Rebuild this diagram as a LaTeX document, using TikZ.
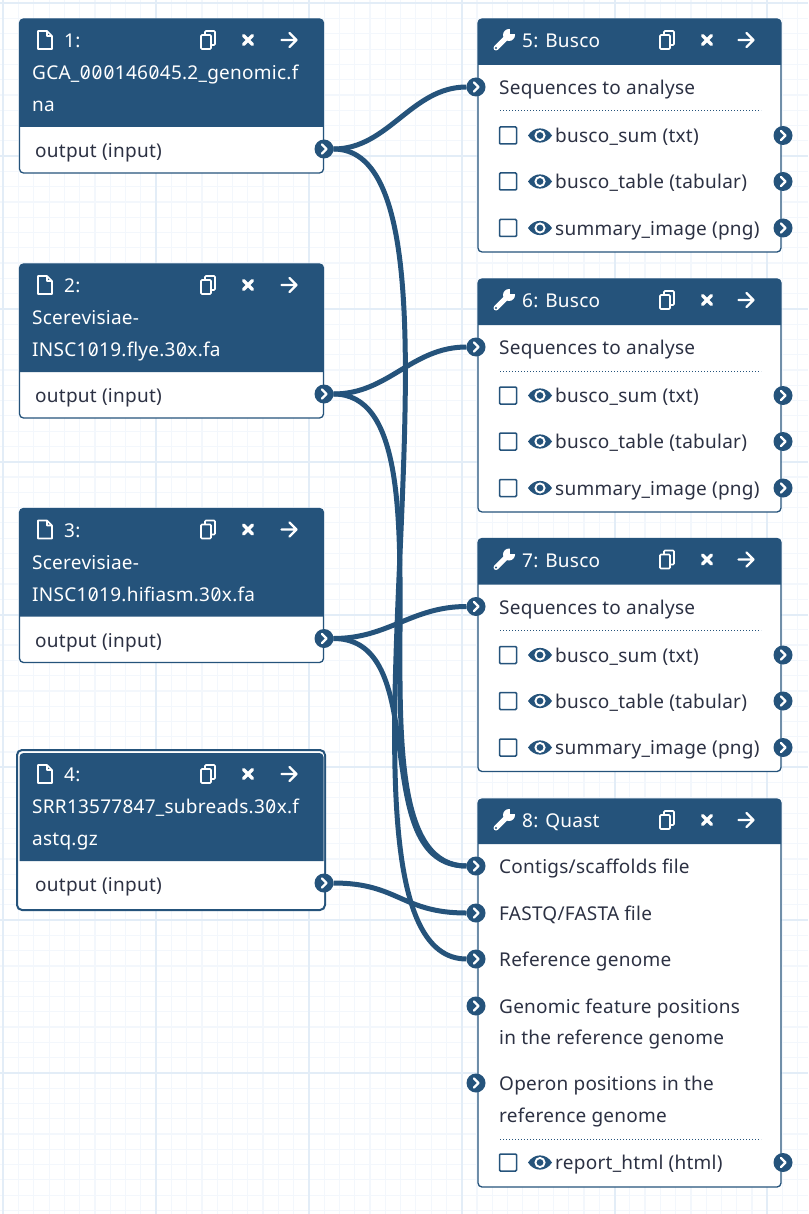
\documentclass[tikz,border=0pt]{standalone}
\usepackage{fontspec}
\setmainfont[LetterSpace=1.3]{Noto Sans}
\definecolor{galblue}{HTML}{25537B}
\definecolor{galtext}{HTML}{2C3143}
\definecolor{gridmaj}{HTML}{E3EDF7}
\definecolor{gridmin}{HTML}{F3F7FC}
\tikzset{
  boxbody/.style={draw=galblue,fill=white,line width=1.3pt,rounded corners=4pt,anchor=north west,inner sep=0pt,outer sep=0pt,minimum width=304pt},
  lbl/.style={anchor=base west,inner sep=0pt,yshift=-.8pt,text=galtext,font=\fontsize{19}{21}\selectfont},
  hdr/.style={lbl,text=white},
  port/.style={circle,fill=galblue,minimum size=19pt,inner sep=0pt,outer sep=0pt,
    path picture={\draw[white,line width=2.2pt,line cap=round,line join=round,shift={(path picture bounding box.center)}] (-2,-4.5)--(2.5,0)--(-2,4.5);}},
  wire/.style={draw=galblue,line width=5pt},
  sepline/.style={draw=galblue,line width=1pt,dotted},
  pics/fileicon/.style={code={\draw[white,line width=1.7pt,line join=round] (-7,-9)--(2,-9)--(7,-4)--(7,9)--(-7,9)--cycle (2,-9)--(2,-4)--(7,-4);}},
  pics/copyicon/.style={code={
    \draw[white,line width=1.6pt,rounded corners=1pt] (-3,-9)--(7,-9)--(7,5)--(-3,5)--cycle;
    \draw[white,fill=galblue,line width=1.6pt,rounded corners=1pt] (-7,-5)--(3,-5)--(3,9)--(-7,9)--cycle;}},
  pics/closeicon/.style={code={\draw[white,line width=3.4pt,line cap=round] (-4.5,-4.5)--(4.5,4.5) (-4.5,4.5)--(4.5,-4.5);}},
  pics/nexticon/.style={code={\draw[white,line width=2.4pt,line cap=round,line join=round] (-7.5,0)--(7.5,0) (0.5,-7)--(7.5,0)--(0.5,7);}},
  pics/wrenchicon/.style={code={
    \draw[white,line width=5pt,line cap=round] (-8,8)--(3,-3);
    \fill[white] (5,-5) circle (6);
    \fill[galblue] (6,-6)--(6,-13)--(13,-13)--(13,-6)--cycle;
    \fill[galblue] (-8,8) circle (1.1);}},
  pics/eyeicon/.style={code={
    \fill[galblue] (-12,0) .. controls (-6,-9.5) and (6,-9.5) .. (12,0) .. controls (6,9.5) and (-6,9.5) .. cycle;
    \fill[white] (0,0) circle (5.6);
    \fill[galblue] (0,0) circle (3.4);}},
  pics/tickbox/.style={code={\draw[galblue,fill=white,line width=1.5pt,rounded corners=1pt] (-8.5,-8.5) rectangle (8.5,8.5);}},
}
% slashed zero of the file names
\newcommand{\zr}{\kern.5pt\ooalign{0\cr\hfil\raisebox{2.6pt}{\rotatebox{-28}{\rule{1.3pt}{9pt}}}\hfil\cr}\kern.5pt}
% header of a box: name, y of its lower edge
\newcommand{\headfill}[2]{\fill[galblue] (#1.north) [rounded corners=4pt] -- (#1.north east) [sharp corners] -- (#1.east |- 0,#2) -- (#1.west |- 0,#2) [rounded corners=4pt] -- (#1.north west) -- cycle;}
% one output row of a tool: name, y of its centre, text
\newcommand{\outrow}[3]{
  \pic at (508,#2) {tickbox};
  \pic at (540,#2) {eyeicon};
  \node[lbl] (#1) at (555,#2+6.5) {#3};
  \node[port] (#1p) at (783,#2) {};}
\begin{document}
\begin{tikzpicture}[x=1pt,y=-1pt]
\useasboundingbox (0,0) rectangle (808,1214);
\fill[white] (0,0) rectangle (808,1214);
\foreach \i in {0,...,52} \draw[gridmin,line width=1.2pt] (3.3+15.28*\i,0)--(3.3+15.28*\i,1214);
\foreach \i in {0,...,79} \draw[gridmin,line width=1.2pt] (0,3.3+15.28*\i)--(808,3.3+15.28*\i);
\foreach \i in {0,...,5} \draw[gridmaj,line width=2pt] (3.3+152.8*\i,0)--(3.3+152.8*\i,1214);
\foreach \i in {0,...,7} \draw[gridmaj,line width=2pt] (0,3.3+152.8*\i)--(808,3.3+152.8*\i);
% input datasets
\draw[galblue,fill=white,line width=2pt,rounded corners=5pt] (17,750) rectangle (325,910);
\foreach \n/\sy/\bd/\la/\lb in {1/0/galblue/GCA\_\zr\zr\zr146\zr45.2\_genomic.f/na,
    2/245/galblue/Scerevisiae-/INSC1\zr19.flye.3\zr x.fa,
    3/489.5/galblue/Scerevisiae-/INSC1\zr19.hifiasm.3\zr x.fa,
    4/734/white/SRR13577847\_subreads.3\zr x.f/astq.gz}{
  \begin{scope}[shift={(0,\sy)}]
    \node[boxbody,draw=\bd,minimum height=154pt] (box\n) at (19.5,19) {};
    \headfill{box\n}{127}
    \pic at (45,40) {fileicon};
    \node[hdr] (title\n) at (64,47) {\n:};
    \node[hdr] (namea\n) at (32,79) {\la};
    \node[hdr] (nameb\n) at (32,111) {\lb};
    \pic at (208,40) {copyicon};
    \pic at (248,40) {closeicon};
    \pic at (289,40) {nexticon};
    \node[lbl] (out\n) at (35,157) {output (input)};
    \node[port] (o\n) at (324,149) {};
  \end{scope}}
% busco tools
\foreach \n/\sy in {5/0,6/260,7/519.5}{
  \begin{scope}[shift={(0,\sy)}]
    \node[boxbody,minimum width=303pt,minimum height=233pt] (box\n) at (478,19) {};
    \headfill{box\n}{65}
    \pic at (504,40) {wrenchicon};
    \node[hdr] (title\n) at (522,47) {\n: Busco};
    \pic at (667,40) {copyicon};
    \pic at (707,40) {closeicon};
    \pic at (746,40) {nexticon};
    \node[port] (i\n) at (476,87) {};
    \node[lbl] (seq\n) at (499,94) {Sequences to analyse};
    \draw[sepline] (500,111)--(761,111);
    \outrow{sum\n}{135.5}{busco\_sum (txt)}
    \outrow{tab\n}{181.5}{busco\_table (tabular)}
    \outrow{img\n}{228}{summary\_image (png)}
  \end{scope}}
% quast
\node[boxbody,minimum width=303pt,minimum height=388pt] (box8) at (478,799) {};
\headfill{box8}{844}
\pic at (504,820) {wrenchicon};
\node[hdr] (title8) at (522,827) {8: Quast};
\pic at (667,820) {copyicon};
\pic at (707,820) {closeicon};
\pic at (746,820) {nexticon};
\node[port] (q1) at (476,866) {};
\node[port] (q2) at (476,913) {};
\node[port] (q3) at (476,959) {};
\node[port] (q4) at (476,1006) {};
\node[port] (q5) at (476,1083) {};
\node[lbl] (qa) at (499,873) {Contigs/scaffolds file};
\node[lbl] (qb) at (499,920) {FASTQ/FASTA file};
\node[lbl] (qc) at (499,966) {Reference genome};
\node[lbl] (qd) at (499,1013) {Genomic feature positions};
\node[lbl] (qe) at (499,1044) {in the reference genome};
\node[lbl] (qf) at (499,1090) {Operon positions in the};
\node[lbl] (qg) at (499,1122) {reference genome};
\draw[sepline] (500,1139)--(761,1139);
\outrow{rep}{1162.5}{report\_html (html)}
% connections
\foreach \a/\b/\d in {o1/i5/55,o2/i6/55,o3/i7/55,o4/q2/65,o1/q3/168,o2/q1/135,o3/q1/102}
  \draw[wire] (\a.east) .. controls +(\d,0) and +(-\d,0) .. (\b.west);
\end{tikzpicture}
\end{document}
